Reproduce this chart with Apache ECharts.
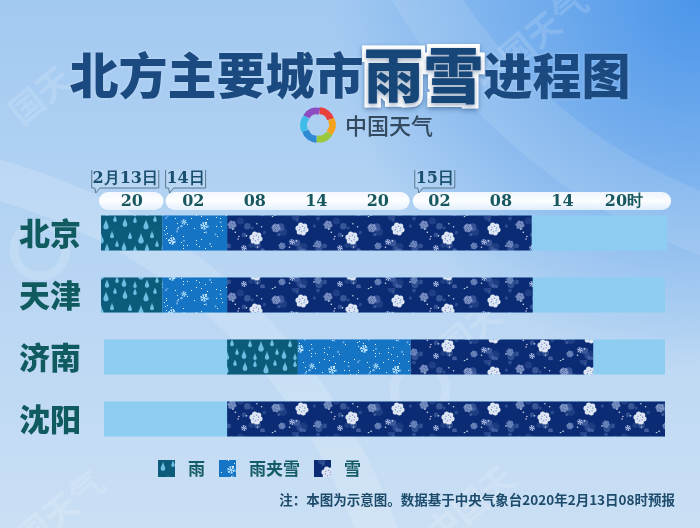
<!DOCTYPE html>
<html><head><meta charset="utf-8">
<script src="https://cdn.jsdelivr.net/npm/echarts@6/dist/echarts.min.js"></script>
<style>html,body{margin:0;padding:0;width:700px;height:528px;overflow:hidden}#c{width:700px;height:528px}</style>
</head><body><div id="c"></div>
<script>
// ---------- data ----------
const cities = ['北京','天津','济南','沈阳'];
// hours counted from 2月13日 00时
const tickHours = [20,26,32,38,44,50,56,62,68];
const tickLabels = ['20','02','08','14','20','02','08','14','20时'];
const dateTagLabels = ['2月13日','14日','15日'];
const dateTagHours = [16.1,23.3,47.6];
const dayBandStart = [16.8,23.3,47.4];
const dayBandEnd = [23.1,47.1,72.6];
// spans: [cityIndex, startHour, endHour]
const baseSpans = [[0,17,72.2],[1,17,72],[2,17.3,72],[3,17.3,72]];
const rainSpans = [[0,17,23],[1,17,23],[2,29.3,36.2]];
const sleetSpans = [[0,23,29.3],[1,23,29.3],[2,36.2,47.2]];
const snowSpans = [[0,29.3,59],[1,29.3,59.1],[2,47.2,65],[3,29.3,72]];
const legendNames = ['雨','雨夹雪','雪'];
const titleParts = ['北方主要城市','雨雪','进程图'];
const noteText = '注：本图为示意图。数据基于中央气象台2020年2月13日08时预报';
const logoText = '中国天气';

// ---------- textures ----------
function mk(w,h){const c=document.createElement('canvas');c.width=w;c.height=h;return c;}
function lcg(seed){let s=seed;return ()=>{s=(s*1103515245+12345)%2147483648;return s/2147483648;};}
function starFlake(g,x,y,r,color,lw){
  g.strokeStyle=color;g.fillStyle=color;g.lineWidth=lw;
  for(let k=0;k<6;k++){
    const a=k*Math.PI/3+0.3, ca=Math.cos(a), sa=Math.sin(a);
    g.beginPath();g.moveTo(x,y);g.lineTo(x+ca*r,y+sa*r);g.stroke();
    const bx=x+ca*r*0.55, by=y+sa*r*0.55;
    for(const d of [-0.8,0.8]){
      g.beginPath();g.moveTo(bx,by);
      g.lineTo(bx+Math.cos(a+d)*r*0.38,by+Math.sin(a+d)*r*0.38);g.stroke();
    }
  }
}
function bubbleFlake(g,x,y,r,col,core){
  g.fillStyle=col;
  for(let k=0;k<6;k++){
    const a=k*Math.PI/3+0.2;
    g.beginPath();g.arc(x+Math.cos(a)*r*0.62,y+Math.sin(a)*r*0.62,r*0.4,0,Math.PI*2);g.fill();
  }
  g.beginPath();g.arc(x,y,r*0.45,0,Math.PI*2);g.fill();
  g.fillStyle=core;
  for(let k=0;k<6;k++){
    const a=k*Math.PI/3+0.2+Math.PI/6;
    g.beginPath();g.arc(x+Math.cos(a)*r*0.42,y+Math.sin(a)*r*0.42,r*0.12,0,Math.PI*2);g.fill();
  }
}
function rainTex(){
  const c=mk(40,36),g=c.getContext('2d');
  g.fillStyle='#0c5b7b';g.fillRect(0,0,40,36);
  const drops=[[5,7,1.2],[15,4,0.9],[26,9,1.3],[35,3,0.9],[10,20,1],[21,23,1.4],[32,19,1],[4,31,1.2],[15,33,0.9],[27,32,1.1],[37,28,0.9]];
  g.fillStyle='#6fbde2';
  drops.forEach(([x,y,s])=>{
    g.beginPath();g.moveTo(x,y-4.5*s);
    g.bezierCurveTo(x+0.4*s,y-2*s,x+2*s,y,x+2*s,y+1.3*s);
    g.arc(x,y+1.3*s,2*s,0,Math.PI);
    g.bezierCurveTo(x-2*s,y,x-0.4*s,y-2*s,x,y-4.5*s);g.fill();
  });
  return c;
}
function sleetTex(){
  const c=mk(64,36),g=c.getContext('2d');
  g.fillStyle='#1574c4';g.fillRect(0,0,64,36);
  const r=lcg(7);
  g.fillStyle='rgba(255,255,255,0.9)';
  for(let i=0;i<40;i++){g.fillRect(Math.floor(r()*64),Math.floor(r()*36),1,1);}
  g.fillStyle='rgba(190,225,255,0.5)';
  for(let i=0;i<12;i++){g.beginPath();g.arc(r()*64,r()*36,1.1,0,Math.PI*2);g.fill();}
  starFlake(g,12,10,4,'#b4e0ff',1);
  starFlake(g,44,25,4,'#b4e0ff',1);
  starFlake(g,56,6,2.8,'#98cff5',1);
  return c;
}
function snowTex(){
  const c=mk(96,36),g=c.getContext('2d');
  g.fillStyle='#0b2c74';g.fillRect(0,0,96,36);
  const r=lcg(11);
  for(let i=0;i<22;i++){
    g.fillStyle='rgba(120,145,205,'+(0.18+r()*0.3)+')';
    g.beginPath();g.arc(r()*96,r()*36,1.5+r()*3,0,Math.PI*2);g.fill();
  }
  g.fillStyle='rgba(255,255,255,0.8)';
  for(let i=0;i<16;i++){g.beginPath();g.arc(r()*96,r()*36,0.8,0,Math.PI*2);g.fill();}
  bubbleFlake(g,40,9,4.5,'rgba(150,170,215,0.75)','rgba(40,70,140,0.8)');
  bubbleFlake(g,84,12,4.5,'rgba(150,170,215,0.75)','rgba(40,70,140,0.8)');
  bubbleFlake(g,30,28,3.8,'rgba(135,160,210,0.7)','rgba(40,70,140,0.8)');
  bubbleFlake(g,90,30,3.6,'rgba(135,160,210,0.7)','rgba(40,70,140,0.8)');
  starFlake(g,52,32,3,'rgba(180,195,235,0.8)',1);
  starFlake(g,4,26,3,'rgba(180,195,235,0.8)',1);
  bubbleFlake(g,14,13,6.5,'rgba(232,238,250,0.95)','rgba(120,145,200,0.9)');
  bubbleFlake(g,64,22,6.5,'rgba(232,238,250,0.95)','rgba(120,145,200,0.9)');
  return c;
}
const rainFill={image:rainTex(),repeat:'repeat'};
const sleetFill={image:sleetTex(),repeat:'repeat'};
const snowFill={image:snowTex(),repeat:'repeat'};
const baseFill='#8ccdf1';

function spanSeries(name,spans,fill,z){
  return {
    type:'custom',name,data:spans,z,
    encode:{x:[1,2],y:0},
    itemStyle:{color:fill},
    renderItem(params,api){
      const cat=api.value(0);
      const s=api.coord([api.value(1),cat]);
      const e=api.coord([api.value(2),cat]);
      const h=api.size([0,1])[1]*0.565;
      return {type:'rect',shape:{x:s[0],y:s[1]-h/2,width:e[0]-s[0],height:h},style:{fill:fill}};
    }
  };
}

const chart=echarts.init(document.getElementById('c'),null,{renderer:'canvas'});
const CJK='"Noto Sans CJK SC","Noto Sans",sans-serif';
const SERIF='"DejaVu Serif","Liberation Serif",serif';

chart.setOption({
  animation:false,
  title:{
    text:'{a|'+titleParts[0]+'}{b|'+titleParts[1]+'}{a|'+titleParts[2]+'}',
    left:'center',top:40,
    textStyle:{rich:{
      a:{fontFamily:CJK,fontSize:49,fontWeight:900,color:'#1b4a80',verticalAlign:'middle',
         textShadowColor:'rgba(255,255,255,0.35)',textShadowBlur:3},
      b:{fontFamily:CJK,fontSize:60,fontWeight:900,color:'#174679',verticalAlign:'middle',
         textBorderColor:'#ffffff',textBorderWidth:8,
         textShadowColor:'rgba(20,60,110,0.45)',textShadowBlur:5,textShadowOffsetY:2}
    }}
  },
  legend:{
    data:legendNames,left:153,top:455,icon:'rect',itemWidth:17,itemHeight:17,itemGap:14,
    selectedMode:false,
    textStyle:{fontFamily:CJK,fontSize:17,fontWeight:'bold',color:'#145c66',padding:[0,0,0,8]}
  },
  grid:{left:101,right:35,top:202,height:248},
  xAxis:{
    type:'value',position:'top',min:17,max:72,
    axisLine:{show:false},axisTick:{show:false},splitLine:{show:false},
    axisLabel:{customValues:tickHours,formatter:v=>tickLabels[tickHours.indexOf(v)],
      margin:-8,fontFamily:SERIF,fontWeight:'bold',fontSize:16,color:'#17575f'}
  },
  yAxis:{
    type:'category',data:cities,inverse:true,
    axisLine:{show:false},axisTick:{show:false},splitLine:{show:false},
    axisLabel:{margin:20,fontFamily:CJK,fontSize:31,fontWeight:900,color:'#105b60'}
  },
  series:[
    spanSeries('底',baseSpans,baseFill,1),
    spanSeries(legendNames[0],rainSpans,rainFill,3),
    spanSeries(legendNames[1],sleetSpans,sleetFill,3),
    spanSeries(legendNames[2],snowSpans,snowFill,3)
  ]
});

// ---------- decorations positioned through the axis scale ----------
const px=h=>chart.convertToPixel({gridIndex:0},[h,0])[0];
const gfx=[];
// background
gfx.push({type:'rect',z:-20,silent:true,shape:{x:0,y:0,width:700,height:528},
  style:{fill:new echarts.graphic.LinearGradient(0,0,0,1,[
    {offset:0,color:'#a2c9f1'},{offset:0.45,color:'#b5d4f3'},{offset:1,color:'#cadff4'}])}});
gfx.push({type:'rect',z:-19,silent:true,shape:{x:0,y:0,width:700,height:528},
  style:{fill:new echarts.graphic.RadialGradient(1,0,0.7,[
    {offset:0,color:'rgba(60,140,232,0.85)'},{offset:1,color:'rgba(60,140,232,0)'}])}});
gfx.push({type:'circle',z:-18,silent:true,shape:{cx:-150,cy:720,r:560},
  style:{fill:'rgba(255,255,255,0)',stroke:'rgba(255,255,255,0.16)',lineWidth:40}});
gfx.push({type:'circle',z:-18,silent:true,shape:{cx:900,cy:-300,r:560},
  style:{fill:'rgba(255,255,255,0)',stroke:'rgba(255,255,255,0.10)',lineWidth:60}});
// watermarks
[[40,95,'国天'],[530,40,'中国天气'],[470,330,'中国天气'],[60,510,'国天气'],[470,505,'中国天']].forEach(([x,y,t])=>{
  gfx.push({type:'text',z:-17,silent:true,x,y,rotation:Math.PI*0.22,
    style:{text:t,fontFamily:CJK,fontSize:34,fontWeight:'bold',fill:'rgba(255,255,255,0.15)',align:'center',verticalAlign:'middle'}});
});
[[40,250],[420,390]].forEach(([cx,cy])=>{
  gfx.push({type:'circle',z:-17,silent:true,shape:{cx,cy,r:26},
    style:{fill:'rgba(255,255,255,0)',stroke:'rgba(255,255,255,0.15)',lineWidth:9}});
});
// logo swirl (pinwheel of curved blades)
const logoCols=['#e8413c','#f5a21c','#9cc93c','#2f8ad6','#3fbbe8','#8d4cc1'];
logoCols.forEach((col,i)=>{
  const a0=-Math.PI/2+i*Math.PI/3;
  gfx.push({type:'sector',z:5,silent:true,
    shape:{cx:318+Math.cos(a0+0.5)*3,cy:125+Math.sin(a0+0.5)*3,r:15,r0:8,startAngle:a0,endAngle:a0+Math.PI/3+0.25},
    style:{fill:col}});
});
gfx.push({type:'text',z:5,silent:true,x:345,y:126,
  style:{text:logoText,fontFamily:CJK,fontSize:22,fontWeight:500,fill:'#33495f',align:'left',verticalAlign:'middle'}});
// timeline pills
dayBandStart.forEach((h0,i)=>{
  const x0=px(h0),x1=px(dayBandEnd[i]);
  gfx.push({type:'rect',z:0,silent:true,shape:{x:x0,y:192,width:x1-x0,height:18,r:9},
    style:{fill:new echarts.graphic.LinearGradient(0,0,0,1,[
      {offset:0,color:'rgba(255,255,255,0.85)'},{offset:0.5,color:'rgba(255,255,255,0.97)'},{offset:1,color:'rgba(235,245,255,0.85)'}])}});
});
// date tags
dateTagLabels.forEach((t,i)=>{
  const x=px(dateTagHours[i]);
  const tw=t.length===5?67:40;
  const top=168,bot=188;
  gfx.push({type:'polyline',z:2,silent:true,
    shape:{points:[[x+tw,top+2],[x+tw,bot],[x+8,bot],[x+4,bot+5],[x+3,bot],[x,bot],[x,top+2]]},
    style:{stroke:'#5b7891',lineWidth:1,fill:'rgba(255,255,255,0.12)'}});
  gfx.push({type:'text',z:3,silent:true,x:x+tw/2,y:(top+bot)/2+1,
    style:{text:t,fontFamily:SERIF,fontWeight:'bold',fontSize:16,fill:'#1a4f6f',align:'center',verticalAlign:'middle'}});
});
// footnote
gfx.push({type:'text',z:5,silent:true,x:675,y:500,
  style:{text:noteText,fontFamily:CJK,fontSize:13.5,fontWeight:'bold',fill:'#1d4b6c',align:'right',verticalAlign:'middle'}});

chart.setOption({graphic:gfx});
</script></body></html>
